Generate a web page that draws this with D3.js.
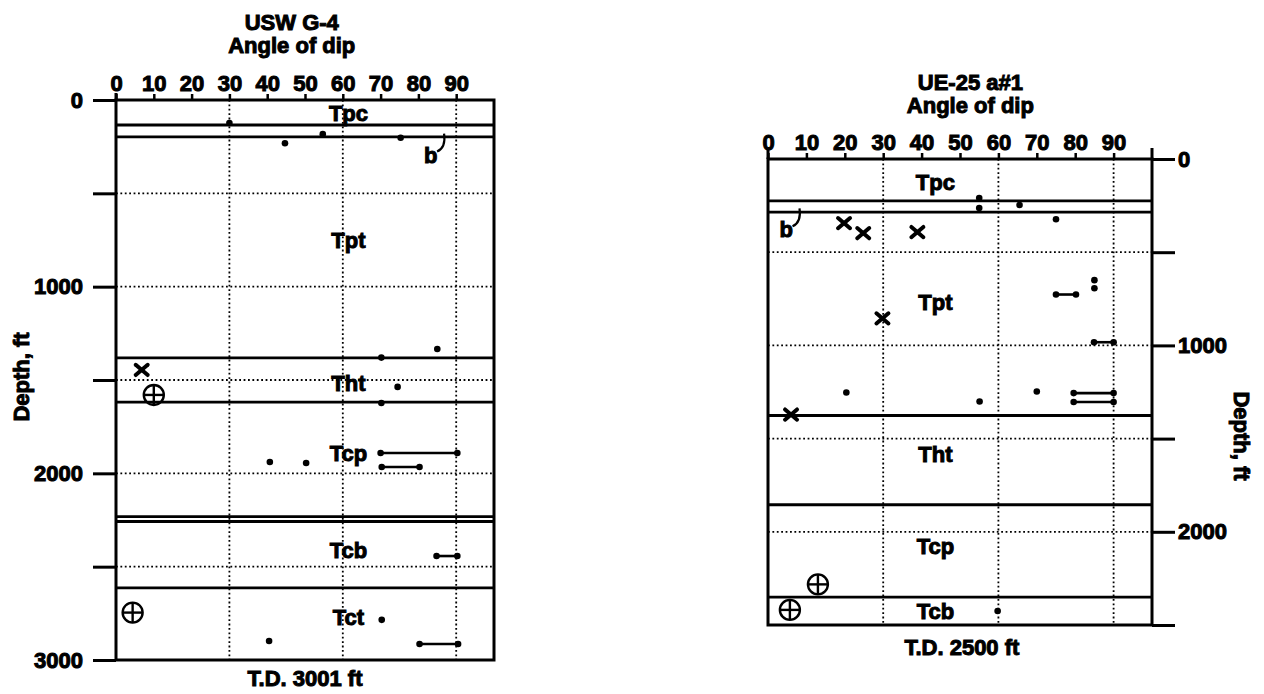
<!doctype html>
<html lang="en">
<head>
<meta charset="utf-8">
<title>Angle of dip - USW G-4 and UE-25 a#1</title>
<script src="https://d3js.org/d3.v7.min.js"></script>
<style>
  body { margin: 0; background: #fff; }
  svg text {
    font-family: "Liberation Sans", Arial, Helvetica, sans-serif;
    font-weight: bold;
    font-size: 22px;
    fill: #000;
    stroke: #000;
    stroke-width: 1px;
  }
  .grid { stroke: #000; stroke-width: 1.8px; stroke-dasharray: 1.8,2.6; fill: none; }
  .frame { stroke: #000; stroke-width: 3px; fill: none; }
  .contact { stroke: #000; stroke-width: 2.8px; }
  .range { stroke: #000; stroke-width: 2.6px; }
  .dot { fill: #000; }
  .xmark { stroke: #000; stroke-width: 4px; stroke-linecap: round; }
  .cross { stroke: #000; stroke-width: 2.4px; fill: none; }
</style>
</head>
<body>
<div id="chart"></div>
<script>
// shared angle ticks (degrees)
var angleTicks = [0, 10, 20, 30, 40, 50, 60, 70, 80, 90];
var angleGrid = [30, 60, 90];

// ---- USW G-4 ----
var g4DepthTicks = [0, 500, 1000, 1500, 2000, 2500, 3000];
var g4DepthLabels = [0, 1000, 2000, 3000];
var g4DepthGrid = [500, 1000, 1500, 2000, 2500];
var g4Contacts = [134, 198, 1382, 1618, 2232, 2258, 2614];
var g4Units = ["Tpc", "Tpt", "Tht", "Tcp", "Tcb", "Tct"];
var g4UnitDepths = [70, 750, 1516, 1891, 2410, 2770];
var g4Dots = [[30, 123], [44.7, 232], [54.7, 183], [75.3, 202], [85, 1334], [70.2, 1380],
              [74.5, 1537], [70.2, 1623], [40.7, 1939], [50.3, 1945], [70.3, 2785], [40.5, 2898]];
var g4Ranges = [[70, 90.3, 1891], [70.3, 80.3, 1966], [84.8, 90.3, 2443], [80.3, 90.5, 2914]];
var g4XMarks = [[6.8, 1446]];
var g4Crosshairs = [[10, 1580], [4.4, 2746]];

// ---- UE-25 a#1 ----
var a1DepthTicks = [0, 500, 1000, 1500, 2000, 2500];
var a1DepthLabels = [0, 1000, 2000];
var a1DepthGrid = [500, 1000, 1500, 2000];
var a1Contacts = [225, 285, 1376, 1855, 2350];
var a1Units = ["Tpc", "Tpt", "Tht", "Tcp", "Tcb"];
var a1UnitDepths = [124, 769, 1581, 2075, 2425];
var a1Dots = [[55, 209], [55, 263], [65.5, 247], [75, 323], [85, 650], [85, 693],
              [20.4, 1253], [55.1, 1301], [70, 1247], [59.8, 2425]];
var a1Ranges = [[75, 80.2, 727], [84.9, 90, 983], [79.6, 90, 1256], [79.6, 90, 1304]];
var a1XMarks = [[19.8, 344], [24.8, 398], [38.9, 392], [29.8, 855], [6, 1371]];
var a1Crosshairs = [[13, 2282], [5.7, 2419]];

var svg = d3.select("#chart").append("svg")
  .attr("width", 1264)
  .attr("height", 694);

function drawWell(cfg) {
  var x = d3.scaleLinear().domain([0, 100]).range(cfg.xRange);
  var y = d3.scaleLinear().domain(cfg.depthDomain).range(cfg.yRange);
  var g = svg.append("g");
  var x0 = cfg.xRange[0], x1 = cfg.xRange[1];
  var y0 = cfg.yRange[0], y1 = cfg.yRange[1];
  var side = cfg.side; // which side the depth axis is on

  // dotted grid
  g.selectAll(".vgrid").data(angleGrid).enter().append("line")
    .attr("class", "grid")
    .attr("x1", d => x(d)).attr("x2", d => x(d))
    .attr("y1", y0).attr("y2", y1);
  g.selectAll(".hgrid").data(cfg.depthGrid).enter().append("line")
    .attr("class", "grid")
    .attr("x1", x0).attr("x2", x1)
    .attr("y1", d => y(d)).attr("y2", d => y(d));

  // formation contacts
  g.selectAll(".contact").data(cfg.contacts).enter().append("line")
    .attr("class", "contact")
    .attr("x1", x0).attr("x2", x1)
    .attr("y1", d => y(d)).attr("y2", d => y(d));

  // frame
  g.append("rect").attr("class", "frame")
    .attr("x", x0).attr("y", y0)
    .attr("width", x1 - x0).attr("height", y1 - y0);

  // top axis (angle)
  var topAxis = d3.axisTop(x).tickValues(angleTicks).tickSize(6).tickPadding(3);
  var ta = g.append("g").attr("transform", "translate(0," + y0 + ")").call(topAxis);
  ta.select(".domain").remove();
  ta.selectAll(".tick line").attr("stroke", "#000").attr("stroke-width", 2.5);
  ta.selectAll(".tick text").attr("font-size", null).attr("font-family", null);

  // depth axis
  var tickLen = 23;
  var depthAxis = (side === "left" ? d3.axisLeft(y) : d3.axisRight(y))
    .tickValues(cfg.depthTicks).tickSize(tickLen).tickPadding(side === "left" ? 10 : 3)
    .tickFormat(d => cfg.depthLabels.indexOf(d) >= 0 ? d : "");
  var da = g.append("g")
    .attr("transform", "translate(" + (side === "left" ? x0 : x1) + ",0)")
    .call(depthAxis);
  da.select(".domain").remove();
  da.selectAll(".tick line").attr("stroke", "#000").attr("stroke-width", 3);
  da.selectAll(".tick text").attr("font-size", null).attr("font-family", null);

  // extend frame edges up a bit at the top corners
  g.append("line").attr("class", "frame")
    .attr("x1", x0).attr("x2", x0).attr("y1", y0 - cfg.cornerUp).attr("y2", y0);
  if (side === "right") {
    g.append("line").attr("class", "frame")
      .attr("x1", x1).attr("x2", x1).attr("y1", y0 - cfg.cornerUp).attr("y2", y0);
  }

  // unit labels
  g.selectAll(".unit").data(cfg.units).enter().append("text")
    .attr("x", x(cfg.unitAngle))
    .attr("y", (d, i) => y(cfg.unitDepths[i]))
    .attr("dy", "0.36em")
    .attr("text-anchor", "middle")
    .text(d => d);

  // ranges of dips
  g.selectAll(".range").data(cfg.ranges).enter().append("line")
    .attr("class", "range")
    .attr("x1", d => x(d[0])).attr("x2", d => x(d[1]))
    .attr("y1", d => y(d[2])).attr("y2", d => y(d[2]));
  var ends = [];
  cfg.ranges.forEach(function(r) { ends.push([r[0], r[2]]); ends.push([r[1], r[2]]); });

  // single dips
  g.selectAll(".dot").data(cfg.dots.concat(ends)).enter().append("circle")
    .attr("class", "dot")
    .attr("cx", d => x(d[0])).attr("cy", d => y(d[1]))
    .attr("r", 3.3);

  // X marks
  var xs = 6;
  var xm = g.selectAll(".xm").data(cfg.xMarks).enter().append("g")
    .attr("transform", d => "translate(" + x(d[0]) + "," + y(d[1]) + ")");
  xm.append("line").attr("class", "xmark").attr("x1", -xs).attr("y1", -xs * 0.85).attr("x2", xs).attr("y2", xs * 0.85);
  xm.append("line").attr("class", "xmark").attr("x1", -xs).attr("y1", xs * 0.85).attr("x2", xs).attr("y2", -xs * 0.85);

  // crosshair circles
  var cr = 10;
  var ch = g.selectAll(".ch").data(cfg.crosshairs).enter().append("g")
    .attr("transform", d => "translate(" + x(d[0]) + "," + y(d[1]) + ")");
  ch.append("circle").attr("class", "cross").attr("r", cr);
  ch.append("line").attr("class", "cross").attr("x1", -cr).attr("x2", cr);
  ch.append("line").attr("class", "cross").attr("y1", -cr).attr("y2", cr);

  // "b" note with hook
  var bx = x(cfg.bNote[0]), by = y(cfg.bNote[1]);
  g.append("text").attr("x", bx).attr("y", by).text("b");
  g.append("path")
    .attr("d", "M" + (bx + 13) + "," + (by - 11) + " Q" + (bx + 22) + "," + (by - 15) + " " + (bx + 20) + "," + (by - 29))
    .attr("fill", "none").attr("stroke", "#000").attr("stroke-width", 2.2);

  // titles
  g.append("text").attr("x", x(cfg.titleAngle)).attr("y", cfg.titleY)
    .attr("text-anchor", "middle").attr("font-size", 23).text(cfg.title);
  g.append("text").attr("x", x(cfg.titleAngle)).attr("y", cfg.titleY + 23)
    .attr("text-anchor", "middle").attr("font-size", 23).text("Angle of dip");

  // total depth
  g.append("text").attr("x", x(cfg.tdAngle)).attr("y", y1 + cfg.tdGap)
    .attr("text-anchor", "middle").text(cfg.td);

  // depth title
  var dx = cfg.depthTitleX, dyc = cfg.depthTitleY;
  g.append("text")
    .attr("transform", "translate(" + dx + "," + dyc + ") rotate(" + (side === "left" ? -90 : 90) + ")")
    .attr("text-anchor", "middle").text("Depth, ft");
}

drawWell({
  title: "USW G-4", titleAngle: 46.5, titleY: 30,
  xRange: [116, 494], yRange: [100, 660], depthDomain: [0, 3000],
  side: "left", cornerUp: 7,
  depthTicks: g4DepthTicks, depthLabels: g4DepthLabels, depthGrid: g4DepthGrid,
  contacts: g4Contacts, units: g4Units, unitDepths: g4UnitDepths, unitAngle: 61.5,
  dots: g4Dots, ranges: g4Ranges, xMarks: g4XMarks, crosshairs: g4Crosshairs,
  bNote: [81.5, 335],
  td: "T.D. 3001 ft", tdAngle: 50, tdGap: 26,
  depthTitleX: 29, depthTitleY: 377
});

drawWell({
  title: "UE-25 a#1", titleAngle: 52.7, titleY: 90,
  xRange: [768, 1152], yRange: [159, 625], depthDomain: [0, 2500],
  side: "right", cornerUp: 11,
  depthTicks: a1DepthTicks, depthLabels: a1DepthLabels, depthGrid: a1DepthGrid,
  contacts: a1Contacts, units: a1Units, unitDepths: a1UnitDepths, unitAngle: 43.6,
  dots: a1Dots, ranges: a1Ranges, xMarks: a1XMarks, crosshairs: a1Crosshairs,
  bNote: [3, 420],
  td: "T.D. 2500 ft", tdAngle: 50.5, tdGap: 30,
  depthTitleX: 1234, depthTitleY: 436
});
</script>
</body>
</html>
